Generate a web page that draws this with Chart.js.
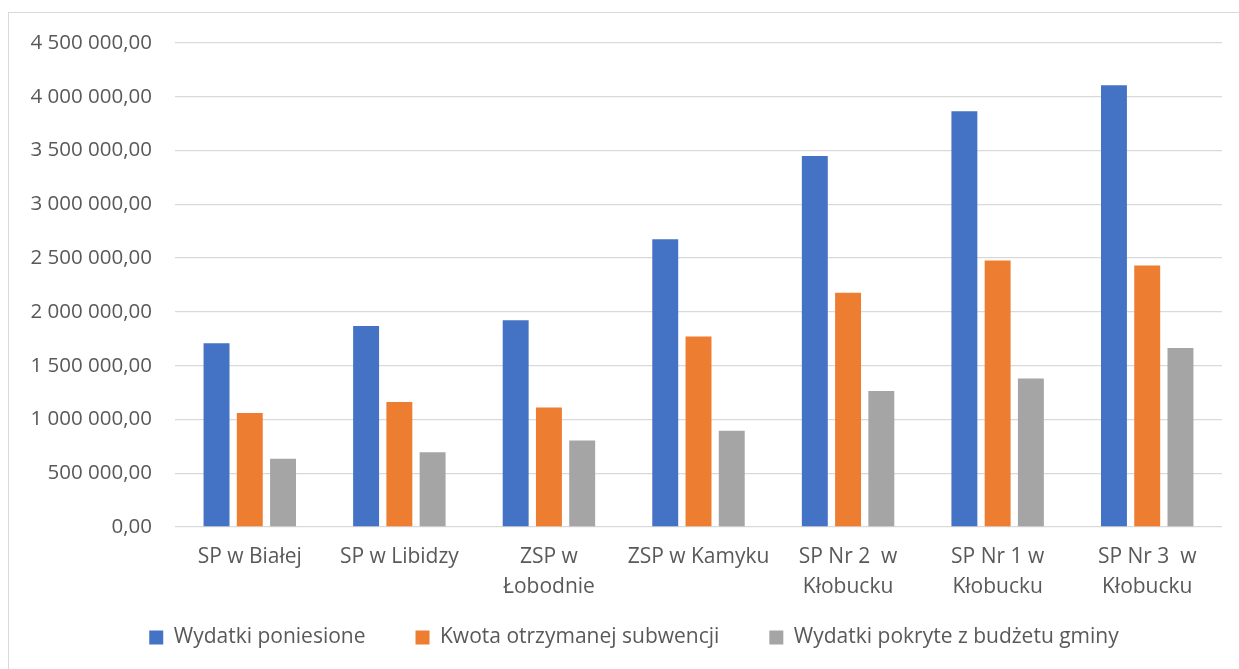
<!DOCTYPE html>
<html>
<head>
<meta charset="utf-8">
<script src="https://cdn.jsdelivr.net/npm/chart.js@4.4.1/dist/chart.umd.min.js"></script>
<style>
    html, body { margin: 0; padding: 0; background: #fff; }
    #frame {
        position: absolute; left: 8px; top: 12px;
        width: 1260px; height: 700px;
        border: 1px solid #d9d9d9;
    }
    #wrap { position: absolute; left: 0; top: 0; width: 1239px; height: 669px; }
</style>
</head>
<body>
<div id="frame"></div>
<div id="wrap"><canvas id="chart"></canvas></div>
<script>
const categories = [
    'SP w Białej',
    'SP w Libidzy',
    ['ZSP w', 'Łobodnie'],
    'ZSP w Kamyku',
    ['SP Nr 2  w', 'Kłobucku'],
    ['SP Nr 1 w', 'Kłobucku'],
    ['SP Nr 3  w', 'Kłobucku']
];
const wydatkiPoniesione = [1709000, 1868000, 1923000, 2676000, 3450000, 3866000, 4108000];
const kwotaSubwencji = [1059000, 1162000, 1110000, 1772000, 2177000, 2478000, 2431000];
const pokryteZBudzetu = [634000, 694000, 805000, 896000, 1265000, 1380000, 1665000];
const yTicks = [0, 500000, 1000000, 1500000, 2000000, 2500000, 3000000, 3500000, 4000000, 4500000];

function formatPl(v) {
    let s = Math.round(v).toString().replace(/\B(?=(\d{3})+(?!\d))/g, ' ');
    return s + ',00';
}

const textColor = '#595959';
const family = '"Open Sans", sans-serif';
const legendPadding = 50;

// legend uses big padding for horizontal spacing; shrink its vertical footprint
const compactLegend = {
    id: 'compactLegend',
    afterInit: function(chart) {
        const legend = chart.legend;
        const fit = legend.fit;
        legend.fit = function() {
            fit.call(this);
            this.height = 41;
        };
    },
    afterLayout: function(chart) {
        const legend = chart.legend;
        legend.top -= legendPadding - 10;
        legend.left += 23;
        legend.right += 23;
    }
};

new Chart(document.getElementById('chart').getContext('2d'), {
    type: 'bar',
    data: {
        labels: categories,
        datasets: [
            { label: 'Wydatki poniesione', data: wydatkiPoniesione, backgroundColor: '#4472C4' },
            { label: 'Kwota otrzymanej subwencji', data: kwotaSubwencji, backgroundColor: '#ED7D31' },
            { label: 'Wydatki pokryte z budżetu gminy', data: pokryteZBudzetu, backgroundColor: '#A5A5A5' }
        ]
    },
    plugins: [compactLegend],
    options: {
        responsive: true,
        maintainAspectRatio: false,
        animation: false,
        datasets: {
            bar: { categoryPercentage: 0.667, barPercentage: 0.78 }
        },
        layout: { padding: { left: 0, right: 17, top: 43, bottom: 11 } },
        scales: {
            x: {
                afterFit: function(scale) { scale.height = 90; },
                grid: { display: false, drawTicks: false },
                border: { display: false },
                ticks: {
                    color: textColor,
                    font: { family: family, size: 21, lineHeight: 1.43 },
                    padding: 15, maxRotation: 0, autoSkip: false
                }
            },
            y: {
                min: 0,
                max: 4500000,
                afterFit: function(scale) { scale.width = 175; },
                afterBuildTicks: function(scale) {
                    scale.ticks = yTicks.map(v => ({ value: v }));
                },
                grid: { color: '#d9d9d9', lineWidth: 1.3, drawTicks: false },
                border: { display: false },
                ticks: {
                    color: textColor,
                    font: { family: family, size: 20.5 },
                    padding: 23,
                    callback: function(v) { return formatPl(v); }
                }
            }
        },
        plugins: {
            legend: {
                position: 'bottom',
                labels: {
                    color: textColor,
                    font: { family: family, size: 21 },
                    boxWidth: 14, boxHeight: 14, padding: legendPadding
                }
            },
            tooltip: { enabled: false }
        }
    }
});
</script>
</body>
</html>
